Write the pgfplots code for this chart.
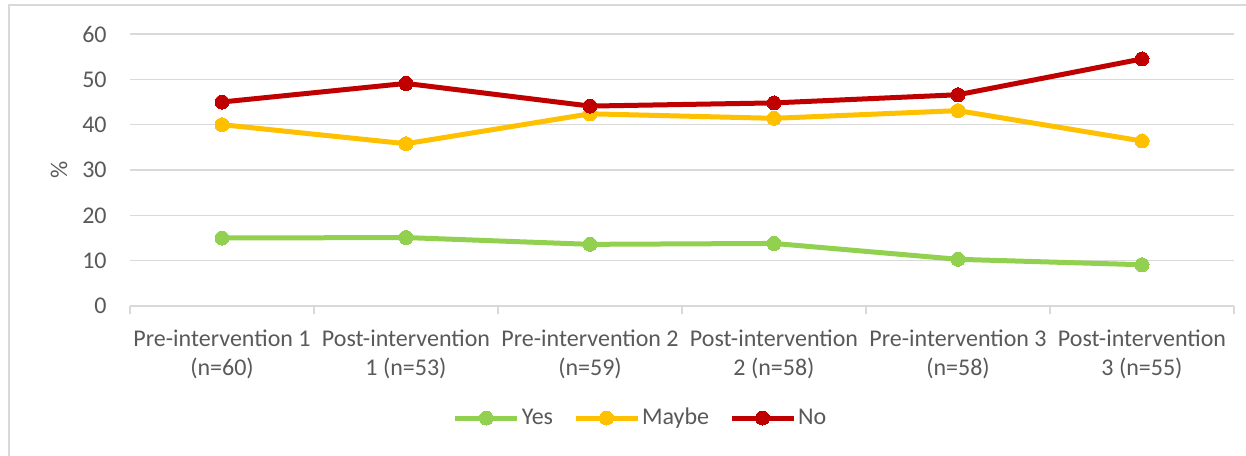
\documentclass[border=0pt]{standalone}
\usepackage{pgfplots}
\pgfplotsset{compat=1.18}
\usepackage{fontspec}
\setmainfont{Carlito}
\definecolor{cyes}{HTML}{92D050}
\definecolor{cmaybe}{HTML}{FFC000}
\definecolor{cno}{HTML}{C00000}
\definecolor{txt}{HTML}{595959}
\definecolor{grd}{HTML}{D9D9D9}
\begin{document}
\begin{tikzpicture}
\path[use as bounding box] (0,0) rectangle (623bp,228bp);
\draw[grd, line width=1bp] (4.5bp,0) -- (4.5bp,225.5bp) -- (623bp,225.5bp);
\begin{axis}[
  at={(65bp,75bp)}, anchor=south west, scale only axis,
  width=552bp, height=136bp,
  xmin=-0.5, xmax=5.5, ymin=0, ymax=60,
  axis x line*=bottom, axis y line*=left,
  x axis line style={grd, line width=1bp},
  y axis line style={draw=none},
  /pgf/number format/assume math mode=true,
  ytick={0,10,...,60},
  xtick={0,...,5},
  xticklabels={Pre-intervention 1\\(n=60), Post-intervention\\1 (n=53), Pre-intervention 2\\(n=59), Post-intervention\\2 (n=58), Pre-intervention 3\\(n=58), Post-intervention\\3 (n=55)},
  minor xtick={-0.5,0.5,...,5.5},
  tick align=outside,
  major tick length=0pt,
  minor tick length=4bp,
  minor tick style={grd, line width=0.75bp},
  ymajorgrids, grid style={grd, line width=0.75bp},
  tick label style={font=\fontsize{12bp}{14.5bp}\selectfont, text=txt},
  xticklabel style={align=center, anchor=north, inner sep=0pt, yshift=-12bp},
  yticklabel style={anchor=east, inner sep=0pt, xshift=-11.5bp},
  ylabel={\%},
  ylabel style={at={(axis description cs:-0.0643,0.5)}, anchor=center, rotate=0, font=\fontsize{12bp}{14.5bp}\selectfont, text=txt},
  legend style={at={(0.4624,-0.4118)}, anchor=center, draw=none, legend columns=3,
    /tikz/every even column/.append style={column sep=9bp},
    font=\fontsize{12bp}{14.5bp}\selectfont, text=txt, nodes={inner sep=1bp}},
  legend image code/.code={\draw[#1, mark repeat=2, mark phase=2] plot coordinates {(0bp,0bp) (15.5bp,0bp) (31bp,0bp)};},
  every axis plot/.append style={line width=2.5bp, mark=*, mark size=3.5bp},
]
\addplot[cyes, mark options={solid, fill=cyes, draw=cyes, line width=0pt}] coordinates {(0,15.0) (1,15.1) (2,13.6) (3,13.8) (4,10.3) (5,9.1)};
\addlegendentry{Yes}
\addplot[cmaybe, mark options={solid, fill=cmaybe, draw=cmaybe, line width=0pt}] coordinates {(0,40.0) (1,35.8) (2,42.4) (3,41.4) (4,43.1) (5,36.4)};
\addlegendentry{Maybe}
\addplot[cno, mark options={solid, fill=cno, draw=cno, line width=0pt}] coordinates {(0,45.0) (1,49.1) (2,44.1) (3,44.8) (4,46.6) (5,54.5)};
\addlegendentry{No}
\end{axis}
\end{tikzpicture}
\end{document}
